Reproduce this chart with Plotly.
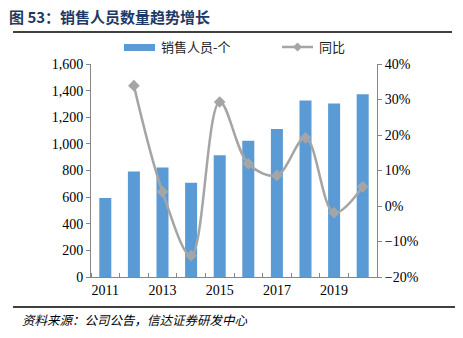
import plotly.graph_objects as go

years = [2011, 2012, 2013, 2014, 2015, 2016, 2017, 2018, 2019, 2020]
sales_staff = [593, 792, 822, 708, 915, 1024, 1112, 1326, 1303, 1373]
yoy_years = [2012, 2013, 2014, 2015, 2016, 2017, 2018, 2019, 2020]
yoy = [0.339, 0.040, -0.140, 0.293, 0.119, 0.086, 0.192, -0.019, 0.054]
xtick_vals = [2011, 2013, 2015, 2017, 2019]
xtick_text = ["2011", "2013", "2015", "2017", "2019"]

W, H = 463, 338
L, R, T, B = 91, 377, 64, 277  # plot area pixel bounds


def px(x):
    return (x - L) / (R - L)


def py(y):
    return (B - y) / (B - T)


BAR = "#5B9BD5"
LINE = "#A5A5A5"
AXIS = "#868686"
SERIF = "Liberation Serif, Times New Roman, serif"
CJK = "Noto Sans CJK SC"

fig = go.Figure()
fig.add_trace(go.Bar(x=years, y=sales_staff, marker=dict(color=BAR, line=dict(width=0)),
                     width=0.42, name="销售人员-个", showlegend=False))
fig.add_trace(go.Scatter(x=yoy_years, y=yoy, yaxis="y2", mode="lines+markers",
                         line=dict(color=LINE, width=2.5, shape="spline", smoothing=1.0),
                         marker=dict(symbol="diamond", size=9, color=LINE),
                         name="同比", showlegend=False))

boundaries = [y - 0.5 for y in years] + [years[-1] + 0.5]

fig.update_layout(
    width=W, height=H,
    margin=dict(l=L, r=W - R, t=T, b=H - B),
    paper_bgcolor="white", plot_bgcolor="white",
    showlegend=False,
    xaxis=dict(range=[years[0] - 0.5, years[-1] + 0.5], tickvals=xtick_vals, ticktext=xtick_text,
               ticks="", showgrid=False, zeroline=False, showline=True, linecolor=AXIS, linewidth=1,
               tickfont=dict(family=SERIF, size=14, color="#000"),
               minor=dict(tickvals=boundaries, ticks="inside", ticklen=4, tickcolor=AXIS, showgrid=False)),
    yaxis=dict(range=[0, 1600], dtick=200, tickformat=",", ticks="outside", ticklen=4, tickcolor=AXIS,
               showgrid=False, zeroline=False, showline=True, linecolor=AXIS, linewidth=1,
               tickfont=dict(family=SERIF, size=14, color="#000")),
    yaxis2=dict(range=[-0.2, 0.4], dtick=0.1, tickformat=".0%", overlaying="y", side="right",
                ticks="outside", ticklen=4, tickcolor=AXIS, showgrid=False, zeroline=False,
                showline=True, linecolor=AXIS, linewidth=1,
                tickfont=dict(family=SERIF, size=14, color="#000")),
)

shapes = []
annotations = []
# top & bottom rules
shapes.append(dict(type="line", xref="paper", yref="paper", x0=px(13), x1=px(452), y0=py(32), y1=py(32),
                   line=dict(color="#000", width=1.5)))
shapes.append(dict(type="line", xref="paper", yref="paper", x0=px(13), x1=px(455), y0=py(307), y1=py(307),
                   line=dict(color="#000", width=1.5)))
# legend: bar swatch
shapes.append(dict(type="rect", xref="paper", yref="paper", x0=px(124), x1=px(155), y0=py(51), y1=py(44),
                   fillcolor=BAR, line=dict(width=0)))
annotations.append(dict(text="销售人员-个", xref="paper", yref="paper", x=px(159), y=py(47),
                        xanchor="left", yanchor="middle", showarrow=False,
                        font=dict(family=CJK, size=13, color="#222")))
# legend: line swatch
shapes.append(dict(type="line", xref="paper", yref="paper", x0=px(282), x1=px(313), y0=py(47), y1=py(47),
                   line=dict(color=LINE, width=2.5)))
cx, cy, d = 297.5, 47, 4.5
shapes.append(dict(type="path", xref="paper", yref="paper",
                   path=f"M {px(cx - d)} {py(cy)} L {px(cx)} {py(cy - d)} L {px(cx + d)} {py(cy)} L {px(cx)} {py(cy + d)} Z",
                   fillcolor=LINE, line=dict(width=0)))
annotations.append(dict(text="同比", xref="paper", yref="paper", x=px(317), y=py(47),
                        xanchor="left", yanchor="middle", showarrow=False,
                        font=dict(family=CJK, size=13, color="#222")))
# title
annotations.append(dict(text="<b>图 53：销售人员数量趋势增长</b>", xref="paper", yref="paper", x=px(7), y=py(16),
                        xanchor="left", yanchor="middle", showarrow=False,
                        font=dict(family=CJK, size=15, color="#1F3864")))
# source
annotations.append(dict(text="<i>资料来源：公司公告，信达证券研发中心</i>", xref="paper", yref="paper", x=px(20), y=py(319),
                        xanchor="left", yanchor="middle", showarrow=False,
                        font=dict(family=CJK, size=12.5, color="#000")))

fig.update_layout(shapes=shapes, annotations=annotations)
fig.write_html("out.html")
